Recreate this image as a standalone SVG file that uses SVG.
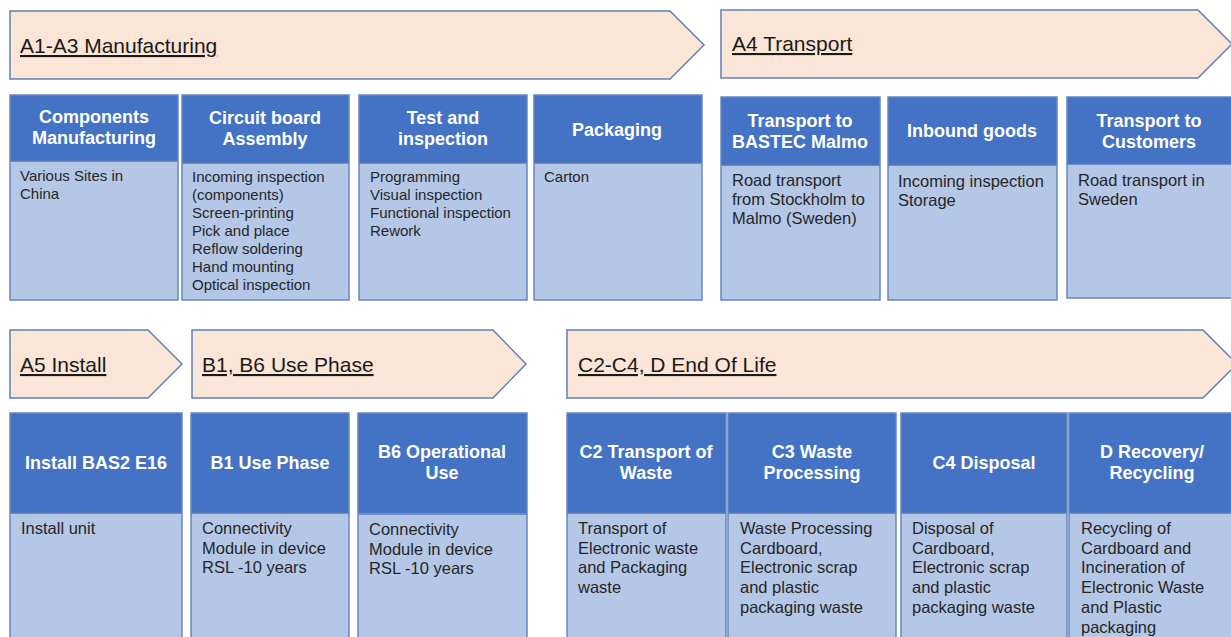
<svg xmlns="http://www.w3.org/2000/svg" width="1231" height="637" viewBox="0 0 1231 637">
  <style>
    .banner { fill: #FBE5D6; stroke: #5F7FB6; stroke-width: 1.5; }
    .btxt { font-family: "Liberation Sans", Arial, sans-serif; font-size: 21px; fill: #1a1a1a; text-decoration: underline; }
    .head { fill: #4472C4; }
    .body { fill: #B4C7E7; }
    .frame { fill: none; stroke: #6787C0; stroke-width: 1.5; }
    .div { stroke: #5A7AB5; stroke-width: 1.5; }
    .htxt { font-family: "Liberation Sans", Arial, sans-serif; font-size: 18px; font-weight: bold; fill: #ffffff; text-anchor: middle; }
    .t15 { font-family: "Liberation Sans", Arial, sans-serif; font-size: 15px; fill: #262626; }
    .t16 { font-family: "Liberation Sans", Arial, sans-serif; font-size: 16.5px; fill: #262626; }
  </style>

  <!-- Phase banners -->
  <g id="banner-a1a3">
    <polygon class="banner" points="10,11 670,11 704,45 670,79 10,79"/>
    <text class="btxt" x="20" y="53">A1-A3 Manufacturing</text>
  </g>
  <g id="banner-a4">
    <polygon class="banner" points="721,10 1198,10 1232,44 1198,78 721,78"/>
    <text class="btxt" x="732" y="51">A4 Transport</text>
  </g>
  <g id="banner-a5">
    <polygon class="banner" points="10,330 148,330 182,364 148,398 10,398"/>
    <text class="btxt" x="20" y="372">A5 Install</text>
  </g>
  <g id="banner-b">
    <polygon class="banner" points="192,330 493,330 526,364 493,398 192,398"/>
    <text class="btxt" x="202" y="372">B1, B6 Use Phase</text>
  </g>
  <g id="banner-c">
    <polygon class="banner" points="567,330 1203,330 1237,364 1203,398 567,398"/>
    <text class="btxt" x="578" y="372">C2-C4, D End Of Life</text>
  </g>

  <!-- Top row: manufacturing -->
  <g id="card-components">
    <rect class="head" x="10" y="95" width="168" height="66"/>
    <rect class="body" x="10" y="161" width="168" height="139"/>
    <line class="div" x1="10" y1="161" x2="178" y2="161"/>
    <rect class="frame" x="10" y="95" width="168" height="205"/>
    <text class="htxt" x="94" y="123">Components</text>
    <text class="htxt" x="94" y="144">Manufacturing</text>
    <text class="t15" x="20" y="181">Various Sites in</text>
    <text class="t15" x="20" y="199">China</text>
  </g>
  <g id="card-circuit">
    <rect class="head" x="182" y="95" width="167" height="68"/>
    <rect class="body" x="182" y="163" width="167" height="137"/>
    <line class="div" x1="182" y1="163" x2="349" y2="163"/>
    <rect class="frame" x="182" y="95" width="167" height="205"/>
    <text class="htxt" x="265" y="124">Circuit board</text>
    <text class="htxt" x="265" y="145">Assembly</text>
    <text class="t15" x="192" y="182">Incoming inspection</text>
    <text class="t15" x="192" y="200">(components)</text>
    <text class="t15" x="192" y="218">Screen-printing</text>
    <text class="t15" x="192" y="236">Pick and place</text>
    <text class="t15" x="192" y="254">Reflow soldering</text>
    <text class="t15" x="192" y="272">Hand mounting</text>
    <text class="t15" x="192" y="290">Optical inspection</text>
  </g>
  <g id="card-test">
    <rect class="head" x="359" y="95" width="168" height="68"/>
    <rect class="body" x="359" y="163" width="168" height="137"/>
    <line class="div" x1="359" y1="163" x2="527" y2="163"/>
    <rect class="frame" x="359" y="95" width="168" height="205"/>
    <text class="htxt" x="443" y="124">Test and</text>
    <text class="htxt" x="443" y="145">inspection</text>
    <text class="t15" x="370" y="182">Programming</text>
    <text class="t15" x="370" y="200">Visual inspection</text>
    <text class="t15" x="370" y="218">Functional inspection</text>
    <text class="t15" x="370" y="236">Rework</text>
  </g>
  <g id="card-packaging">
    <rect class="head" x="534" y="95" width="168" height="68"/>
    <rect class="body" x="534" y="163" width="168" height="137"/>
    <line class="div" x1="534" y1="163" x2="702" y2="163"/>
    <rect class="frame" x="534" y="95" width="168" height="205"/>
    <text class="htxt" x="617" y="136">Packaging</text>
    <text class="t15" x="544" y="182">Carton</text>
  </g>

  <!-- Top row: transport -->
  <g id="card-transport-malmo">
    <rect class="head" x="721" y="97" width="159" height="68"/>
    <rect class="body" x="721" y="165" width="159" height="135"/>
    <line class="div" x1="721" y1="165" x2="880" y2="165"/>
    <rect class="frame" x="721" y="97" width="159" height="203"/>
    <text class="htxt" x="800" y="127">Transport to</text>
    <text class="htxt" x="800" y="148">BASTEC Malmo</text>
    <text class="t16" x="732" y="186">Road transport</text>
    <text class="t16" x="732" y="205">from Stockholm to</text>
    <text class="t16" x="732" y="224">Malmo (Sweden)</text>
  </g>
  <g id="card-inbound">
    <rect class="head" x="888" y="97" width="169" height="68"/>
    <rect class="body" x="888" y="165" width="169" height="135"/>
    <line class="div" x1="888" y1="165" x2="1057" y2="165"/>
    <rect class="frame" x="888" y="97" width="169" height="203"/>
    <text class="htxt" x="972" y="137">Inbound goods</text>
    <text class="t16" x="898" y="187">Incoming inspection</text>
    <text class="t16" x="898" y="206">Storage</text>
  </g>
  <g id="card-transport-customers">
    <rect class="head" x="1067" y="97" width="166" height="67"/>
    <rect class="body" x="1067" y="164" width="166" height="134"/>
    <line class="div" x1="1067" y1="164" x2="1233" y2="164"/>
    <rect class="frame" x="1067" y="97" width="166" height="201"/>
    <text class="htxt" x="1149" y="127">Transport to</text>
    <text class="htxt" x="1149" y="148">Customers</text>
    <text class="t16" x="1078" y="186">Road transport in</text>
    <text class="t16" x="1078" y="205">Sweden</text>
  </g>

  <!-- Bottom row: install and use -->
  <g id="card-install">
    <rect class="head" x="10" y="413" width="172" height="100"/>
    <rect class="body" x="10" y="513" width="172" height="130"/>
    <line class="div" x1="10" y1="513" x2="182" y2="513"/>
    <rect class="frame" x="10" y="413" width="172" height="230"/>
    <text class="htxt" x="96" y="469">Install BAS2 E16</text>
    <text class="t16" x="21" y="534">Install unit</text>
  </g>
  <g id="card-b1">
    <rect class="head" x="191" y="413" width="158" height="100"/>
    <rect class="body" x="191" y="513" width="158" height="130"/>
    <line class="div" x1="191" y1="513" x2="349" y2="513"/>
    <rect class="frame" x="191" y="413" width="158" height="230"/>
    <text class="htxt" x="270" y="469">B1 Use Phase</text>
    <text class="t16" x="202" y="534">Connectivity</text>
    <text class="t16" x="202" y="554">Module in device</text>
    <text class="t16" x="202" y="573">RSL -10 years</text>
  </g>
  <g id="card-b6">
    <rect class="head" x="358" y="413" width="169" height="100"/>
    <rect class="body" x="358" y="513" width="169" height="130"/>
    <line class="div" x1="358" y1="514" x2="527" y2="514"/>
    <rect class="frame" x="358" y="413" width="169" height="230"/>
    <text class="htxt" x="442" y="458">B6 Operational</text>
    <text class="htxt" x="442" y="479">Use</text>
    <text class="t16" x="369" y="535">Connectivity</text>
    <text class="t16" x="369" y="555">Module in device</text>
    <text class="t16" x="369" y="574">RSL -10 years</text>
  </g>

  <!-- Bottom row: end of life -->
  <g id="card-c2">
    <rect class="head" x="567" y="413" width="159" height="100"/>
    <rect class="body" x="567" y="513" width="159" height="130"/>
    <line class="div" x1="567" y1="513" x2="726" y2="513"/>
    <rect class="frame" x="567" y="413" width="159" height="230"/>
    <text class="htxt" x="646" y="458">C2 Transport of</text>
    <text class="htxt" x="646" y="479">Waste</text>
    <text class="t16" x="578" y="534">Transport of</text>
    <text class="t16" x="578" y="554">Electronic waste</text>
    <text class="t16" x="578" y="573">and Packaging</text>
    <text class="t16" x="578" y="593">waste</text>
  </g>
  <g id="card-c3">
    <rect class="head" x="728" y="413" width="168" height="100"/>
    <rect class="body" x="728" y="513" width="168" height="130"/>
    <line class="div" x1="728" y1="513" x2="896" y2="513"/>
    <rect class="frame" x="728" y="413" width="168" height="230"/>
    <text class="htxt" x="812" y="458">C3 Waste</text>
    <text class="htxt" x="812" y="479">Processing</text>
    <text class="t16" x="740" y="534">Waste Processing</text>
    <text class="t16" x="740" y="554">Cardboard,</text>
    <text class="t16" x="740" y="573">Electronic scrap</text>
    <text class="t16" x="740" y="593">and plastic</text>
    <text class="t16" x="740" y="613">packaging waste</text>
  </g>
  <g id="card-c4">
    <rect class="head" x="901" y="413" width="166" height="100"/>
    <rect class="body" x="901" y="513" width="166" height="130"/>
    <line class="div" x1="901" y1="513" x2="1067" y2="513"/>
    <rect class="frame" x="901" y="413" width="166" height="230"/>
    <text class="htxt" x="984" y="469">C4 Disposal</text>
    <text class="t16" x="912" y="534">Disposal of</text>
    <text class="t16" x="912" y="554">Cardboard,</text>
    <text class="t16" x="912" y="573">Electronic scrap</text>
    <text class="t16" x="912" y="593">and plastic</text>
    <text class="t16" x="912" y="613">packaging waste</text>
  </g>
  <g id="card-d">
    <rect class="head" x="1069" y="413" width="166" height="100"/>
    <rect class="body" x="1069" y="513" width="166" height="130"/>
    <line class="div" x1="1069" y1="513" x2="1235" y2="513"/>
    <rect class="frame" x="1069" y="413" width="166" height="230"/>
    <text class="htxt" x="1152" y="458">D Recovery/</text>
    <text class="htxt" x="1152" y="479">Recycling</text>
    <text class="t16" x="1081" y="534">Recycling of</text>
    <text class="t16" x="1081" y="554">Cardboard and</text>
    <text class="t16" x="1081" y="573">Incineration of</text>
    <text class="t16" x="1081" y="593">Electronic Waste</text>
    <text class="t16" x="1081" y="613">and Plastic</text>
    <text class="t16" x="1081" y="633">packaging</text>
  </g>

  <!-- No connectors are drawn between the cards -->
  <g id="connectors"/>
</svg>
